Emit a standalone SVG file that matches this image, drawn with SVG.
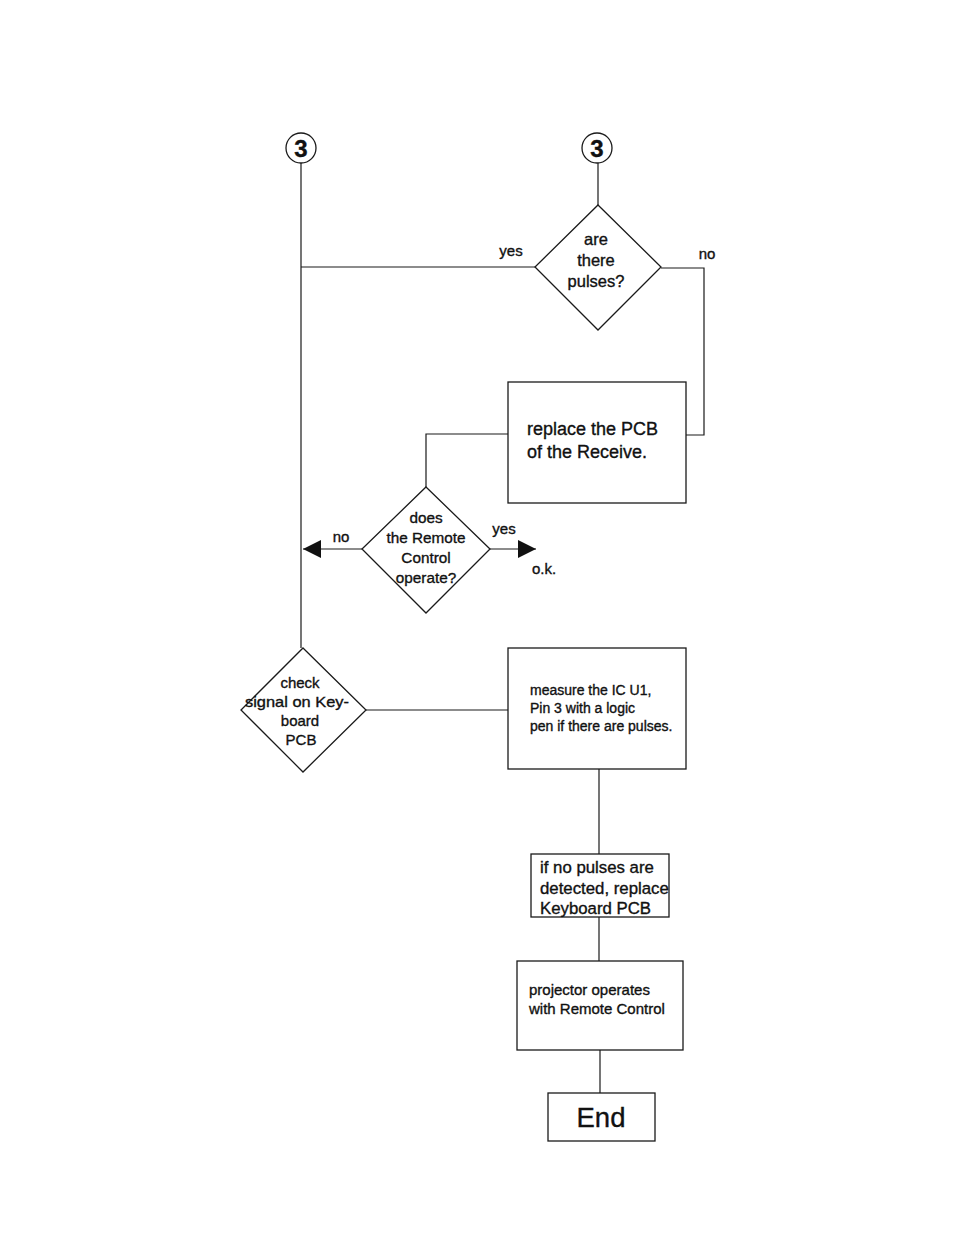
<svg xmlns="http://www.w3.org/2000/svg" width="954" height="1235" viewBox="0 0 954 1235">
<style>
.s{fill:none;stroke:#1a1a1a;stroke-width:1.2}
.b{fill:#fff;stroke:#1a1a1a;stroke-width:1.3}
.t{font-family:"Liberation Sans",Arial,sans-serif;fill:#111;stroke:#111;stroke-width:0.35}
</style>
<defs>
<marker id="ah" viewBox="0 0 10 10" refX="10" refY="5" markerWidth="18" markerHeight="18" markerUnits="userSpaceOnUse" orient="auto">
<path d="M0,0 L10,5 L0,10 Z" fill="#111"/>
</marker>
</defs>
<rect width="954" height="1235" fill="#fff"/>
<g id="connectors">
<line class="s" x1="301" y1="163" x2="301" y2="648"/>
<line class="s" x1="598" y1="163" x2="598" y2="205"/>
<line class="s" x1="301" y1="267" x2="535" y2="267"/>
<polyline class="s" points="661,268 704,268 704,435 686,435"/>
<polyline class="s" points="508,434 426,434 426,487"/>
<line class="s" x1="362" y1="549" x2="303" y2="549" marker-end="url(#ah)"/>
<line class="s" x1="490" y1="549" x2="536" y2="549" marker-end="url(#ah)"/>
<line class="s" x1="366" y1="710" x2="508" y2="710"/>
<line class="s" x1="599" y1="769" x2="599" y2="854"/>
<line class="s" x1="599" y1="917" x2="599" y2="961"/>
<line class="s" x1="600" y1="1050" x2="600" y2="1093"/>
<text class="t" x="511" y="256" font-size="15" text-anchor="middle">yes</text>
<text class="t" x="707" y="259" font-size="15" text-anchor="middle">no</text>
<text class="t" x="341" y="542" font-size="15" text-anchor="middle">no</text>
<text class="t" x="504" y="534" font-size="15" text-anchor="middle">yes</text>
<text class="t" x="544" y="574" font-size="15" text-anchor="middle">o.k.</text>
</g>
<g id="c3left">
<circle class="b" cx="301" cy="148" r="15"/>
<text class="t" x="301" y="157" font-size="24" font-weight="bold" text-anchor="middle">3</text>
</g>
<g id="c3right">
<circle class="b" cx="597" cy="148" r="15"/>
<text class="t" x="597" y="157" font-size="24" font-weight="bold" text-anchor="middle">3</text>
</g>
<g id="d1">
<polygon class="b" points="598,205 661,267 598,330 535,267"/>
<text class="t" font-size="16.5" text-anchor="middle"><tspan x="596" y="245">are</tspan><tspan x="596" y="266">there</tspan><tspan x="596" y="287">pulses?</tspan></text>
</g>
<g id="replace">
<rect class="b" x="508" y="382" width="178" height="121"/>
<text class="t" font-size="18"><tspan x="527" y="435">replace the PCB</tspan><tspan x="527" y="458">of the Receive.</tspan></text>
</g>
<g id="d2">
<polygon class="b" points="426,487 490,549 426,613 362,549"/>
<text class="t" font-size="15.3" text-anchor="middle"><tspan x="426" y="523">does</tspan><tspan x="426" y="543">the Remote</tspan><tspan x="426" y="563">Control</tspan><tspan x="426" y="583">operate?</tspan></text>
</g>
<g id="d3">
<polygon class="b" points="303,648 366,710 303,772 241,710"/>
<text class="t" font-size="15" text-anchor="middle"><tspan x="300" y="688">check</tspan><tspan x="297" y="707" textLength="104" lengthAdjust="spacingAndGlyphs">signal on Key-</tspan><tspan x="300" y="726">board</tspan><tspan x="301" y="745">PCB</tspan></text>
</g>
<g id="measure">
<rect class="b" x="508" y="648" width="178" height="121"/>
<text class="t" font-size="14"><tspan x="530" y="695">measure the IC U1,</tspan><tspan x="530" y="713">Pin 3 with a logic</tspan><tspan x="530" y="731">pen if there are pulses.</tspan></text>
</g>
<g id="nopulses">
<rect class="b" x="531" y="854" width="138" height="63"/>
<text class="t" font-size="16.8"><tspan x="540" y="873">if no pulses are</tspan><tspan x="540" y="894">detected, replace</tspan><tspan x="540" y="914">Keyboard PCB</tspan></text>
</g>
<g id="projector">
<rect class="b" x="517" y="961" width="166" height="89"/>
<text class="t" font-size="15"><tspan x="529" y="995">projector operates</tspan><tspan x="529" y="1014">with Remote Control</tspan></text>
</g>
<g id="end">
<rect class="b" x="548" y="1093" width="107" height="48"/>
<text class="t" x="601" y="1127" font-size="27.5" text-anchor="middle">End</text>
</g>
</svg>
